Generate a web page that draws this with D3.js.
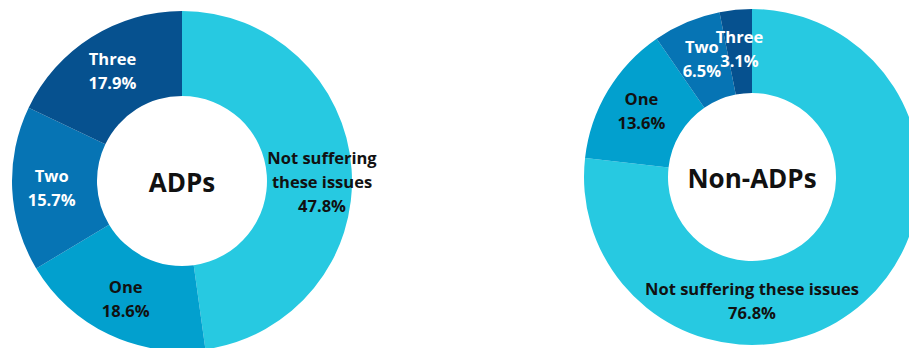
<!DOCTYPE html>
<html>
<head>
<meta charset="utf-8">
<script src="https://cdn.jsdelivr.net/npm/d3@7"></script>
<style>
  html, body { margin: 0; padding: 0; background: #ffffff; }
  svg { display: block; }
  text { font-family: "Open Sans", "Noto Sans", sans-serif; font-weight: 700; }
</style>
</head>
<body>
<svg id="chart" width="909" height="348"></svg>
<script>
// ---- data ----
const categories = ["Not suffering these issues", "One", "Two", "Three"];
const adpValues = [47.8, 18.6, 15.7, 17.9];
const nonAdpValues = [76.8, 13.6, 6.5, 3.1];
const chartTitles = ["ADPs", "Non-ADPs"];
const adpLabelLines = [["Not suffering", "these issues"], ["One"], ["Two"], ["Three"]];
const nonAdpLabelLines = [["Not suffering these issues"], ["One"], ["Two"], ["Three"]];

// ---- styles ----
const colors = ["#27C9E1", "#02A0CE", "#0674B4", "#06518F"];
const textColors = ["#111111", "#111111", "#ffffff", "#ffffff"];

const svg = d3.select("#chart");

const charts = [
  { title: chartTitles[0], values: adpValues, lines: adpLabelLines, cx: 182, cy: 181, r: 170, ir: 85 },
  { title: chartTitles[1], values: nonAdpValues, lines: nonAdpLabelLines, cx: 752, cy: 177, r: 168, ir: 84 }
];

const pie = d3.pie().sort(null).value(d => d.value);

charts.forEach(c => {
  const data = categories.map((cat, i) => ({ cat, value: c.values[i], i }));
  const arcs = pie(data);
  const arc = d3.arc().innerRadius(c.ir).outerRadius(c.r);
  const g = svg.append("g").attr("transform", `translate(${c.cx},${c.cy})`);

  g.selectAll("path.slice")
    .data(arcs)
    .join("path")
    .attr("class", "slice")
    .attr("d", arc)
    .attr("fill", d => colors[d.data.i]);

  g.append("text")
    .attr("text-anchor", "middle")
    .attr("dominant-baseline", "central")
    .attr("y", 1)
    .attr("font-size", 26)
    .attr("fill", "#111")
    .text(c.title);

  const lineH = 24;
  arcs.forEach(d => {
    const span = d.endAngle - d.startAngle;
    let ang = (d.startAngle + d.endAngle) / 2;
    let rad = (c.r + c.ir) / 2 + 3;
    if (span > 1.5 * Math.PI) { ang = Math.PI; rad = 123; }
    else if (span > 0.8 * Math.PI) { rad = 140; ang = Math.PI / 2; }
    const x = Math.sin(ang) * rad;
    const y = -Math.cos(ang) * rad;
    const lines = c.lines[d.data.i].concat([d.data.value.toFixed(1) + "%"]);
    const t = g.append("text")
      .attr("text-anchor", "middle")
      .attr("font-size", 16.5)
      .attr("fill", textColors[d.data.i]);
    lines.forEach((ln, k) => {
      t.append("tspan")
        .attr("x", x)
        .attr("y", y + (k - (lines.length - 1) / 2) * lineH)
        .attr("dominant-baseline", "central")
        .text(ln);
    });
  });
});
</script>
</body>
</html>
